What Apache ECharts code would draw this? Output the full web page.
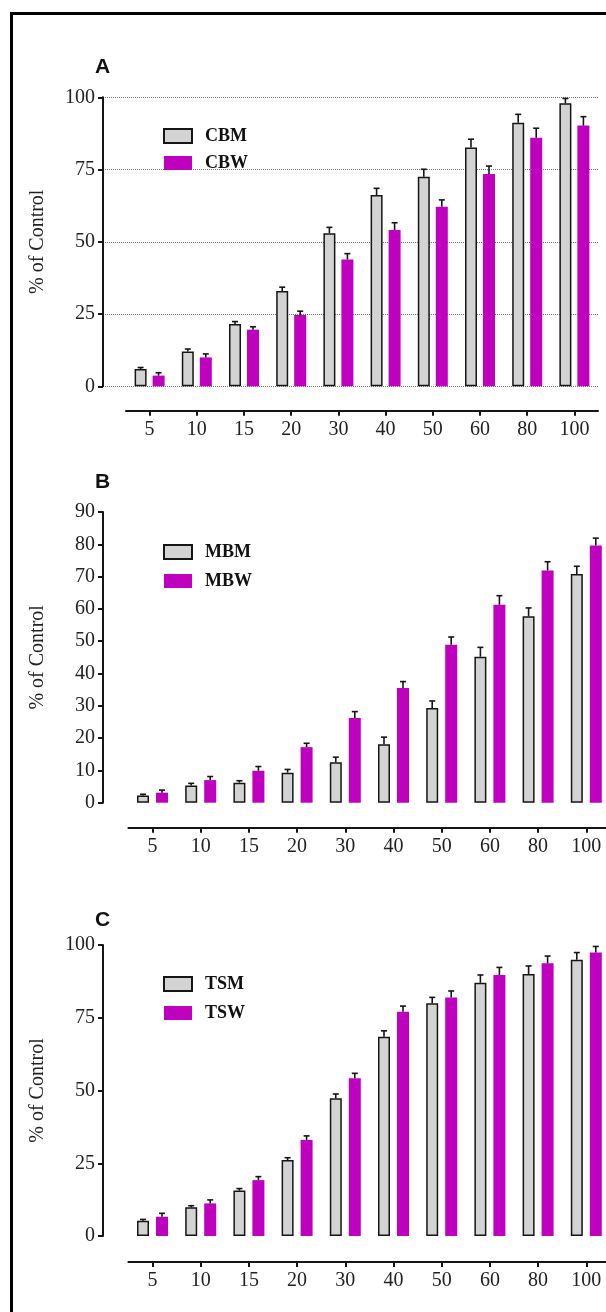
<!DOCTYPE html>
<html><head><meta charset="utf-8">
<script src="https://cdn.jsdelivr.net/npm/echarts@6/dist/echarts.min.js"></script>
<style>html,body{margin:0;padding:0;background:#fff}#c{width:606px;height:1312px}</style>
</head><body><div id="c"></div>
<script>
// ---- data ----
const categories = ['5','10','15','20','30','40','50','60','80','100'];

const cbm    = [6.0, 12.0, 21.6, 33.0, 53.0, 66.2, 72.5, 82.6, 91.2, 97.9];
const cbmErr = [0.5, 0.9, 0.8, 1.3, 2.0, 2.3, 2.6, 2.9, 2.9, 1.7];
const cbw    = [3.7, 10.0, 19.6, 24.7, 43.9, 54.1, 62.1, 73.5, 86.0, 90.2];
const cbwErr = [1.0, 1.2, 1.0, 1.3, 2.0, 2.5, 2.4, 2.7, 3.3, 3.1];

const mbm    = [2.2, 5.3, 6.2, 9.3, 12.5, 18.1, 29.3, 45.2, 57.7, 70.8];
const mbmErr = [0.4, 0.7, 0.6, 1.0, 1.6, 2.2, 2.2, 2.9, 2.6, 2.4];
const mbw    = [3.1, 7.0, 9.9, 17.2, 26.2, 35.5, 48.9, 61.3, 71.9, 79.6];
const mbwErr = [0.8, 1.1, 1.3, 1.2, 2.0, 2.0, 2.4, 2.8, 2.7, 2.3];

const tsm    = [5.2, 9.9, 15.6, 26.1, 47.3, 68.5, 80.0, 87.0, 90.0, 94.9];
const tsmErr = [0.5, 0.5, 0.7, 0.8, 1.5, 2.0, 2.0, 2.7, 2.8, 2.5];
const tsw    = [6.6, 11.2, 19.2, 33.0, 54.2, 77.1, 82.0, 89.7, 93.7, 97.4];
const tswErr = [1.2, 1.2, 1.2, 1.4, 1.7, 1.9, 2.2, 2.6, 2.5, 2.1];

const seriesNamesA = ['CBM', 'CBW'];
const seriesNamesB = ['MBM', 'MBW'];
const seriesNamesC = ['TSM', 'TSW'];
const panelLetters = ['A', 'B', 'C'];
const yAxisTitle = '% of Control';
const yMax  = [100, 90, 100];
const yStep = [25, 10, 25];

// ---- layout / style ----
const GRAY = '#d3d3d3', PURPLE = '#bf00bf', INK = '#151515';
const SERIF = '"Liberation Serif","Times New Roman",serif';
const SANS = '"Liberation Sans",Arial,sans-serif';

const panels = [
  {names: seriesNamesA, m: cbm, mErr: cbmErr, w: cbw, wErr: cbwErr, grid: true,
   top: 97.3, height: 289, axisLeft: 103, axisRight: 598, barLeft: 126, barW: 472,
   xOffset: 24.4, legendTop: 127, legendGap: 9, letterTop: 57, bw: 12, gap: 6},
  {names: seriesNamesB, m: mbm, mErr: mbmErr, w: mbw, wErr: mbwErr, grid: false,
   top: 512, height: 290.7, axisLeft: 103, axisRight: 606, barLeft: 128.4, barW: 482,
   xOffset: 25, legendTop: 543, legendGap: 11, letterTop: 472, bw: 12, gap: 7},
  {names: seriesNamesC, m: tsm, mErr: tsmErr, w: tsw, wErr: tswErr, grid: false,
   top: 945, height: 291, axisLeft: 103, axisRight: 606, barLeft: 128.4, barW: 482,
   xOffset: 26, legendTop: 975, legendGap: 11, letterTop: 910, bw: 12, gap: 7}
];

const grid = [], xAxis = [], yAxis = [], series = [], legend = [], graphic = [];

function errSeries(gi, vals, errs, off) {
  return {
    type: 'custom', xAxisIndex: gi, yAxisIndex: gi, z: 5, silent: true,
    data: vals.map((v, j) => [j, v, v + errs[j]]),
    renderItem: function (params, api) {
      const base = api.coord([api.value(0), api.value(1)]);
      const top = api.coord([api.value(0), api.value(2)]);
      const x = base[0] + off;
      const st = {stroke: INK, lineWidth: 1.6};
      return {type: 'group', children: [
        {type: 'line', shape: {x1: x, y1: base[1], x2: x, y2: top[1]}, style: st},
        {type: 'line', shape: {x1: x - 3, y1: top[1], x2: x + 3, y2: top[1]}, style: st}
      ]};
    }
  };
}

panels.forEach((p, i) => {
  const ga = 2 * i, gb = 2 * i + 1;
  grid.push({left: p.axisLeft, top: p.top, width: p.axisRight - p.axisLeft, height: p.height, outerBoundsMode: 'none', containLabel: false});
  grid.push({left: p.barLeft, top: p.top, width: p.barW, height: p.height, outerBoundsMode: 'none', containLabel: false});
  xAxis.push({gridIndex: ga, type: 'value', min: 0, max: 1, show: false});
  yAxis.push({
    gridIndex: ga, type: 'value', min: 0, max: yMax[i], interval: yStep[i],
    axisLine: {show: true, lineStyle: {color: INK, width: 2}},
    axisTick: {show: true, length: 5, lineStyle: {color: INK, width: 2}},
    axisLabel: {fontFamily: SERIF, fontSize: 20, color: '#222', margin: 8},
    splitLine: {show: p.grid, lineStyle: {type: 'dotted', color: '#777', width: 1}},
    name: yAxisTitle, nameLocation: 'middle', nameGap: 55,
    nameTextStyle: {fontFamily: SERIF, fontSize: 20, color: '#222'}
  });
  xAxis.push({
    gridIndex: gb, type: 'category', data: categories, offset: p.xOffset,
    axisLine: {show: true, onZero: false, lineStyle: {color: INK, width: 2}},
    axisTick: {show: true, alignWithLabel: true, length: 5, lineStyle: {color: INK, width: 2}},
    axisLabel: {interval: 0, fontFamily: SERIF, fontSize: 20, color: '#222', margin: 9},
    splitLine: {show: false}
  });
  yAxis.push({gridIndex: gb, type: 'value', min: 0, max: yMax[i], show: false, splitLine: {show: false}});

  const off = (p.bw + p.gap) / 2;
  series.push({
    name: p.names[0], type: 'bar', xAxisIndex: gb, yAxisIndex: gb, data: p.m,
    barWidth: p.bw, barGap: (p.gap / p.bw * 100) + '%',
    itemStyle: {color: GRAY, borderColor: INK, borderWidth: 1.5}
  });
  series.push({
    name: p.names[1], type: 'bar', xAxisIndex: gb, yAxisIndex: gb, data: p.w,
    barWidth: p.bw, barGap: (p.gap / p.bw * 100) + '%',
    itemStyle: {color: PURPLE}
  });
  series.push(errSeries(gb, p.m, p.mErr, -off));
  series.push(errSeries(gb, p.w, p.wErr, off));

  legend.push({
    data: p.names, orient: 'vertical', left: 163, top: p.legendTop, padding: 0,
    itemWidth: 28, itemHeight: 14, itemGap: p.legendGap, icon: 'rect', selectedMode: false,
    textStyle: {fontFamily: SERIF, fontWeight: 'bold', fontSize: 18, color: '#111', lineHeight: 14, padding: [0, 0, 0, 8]}
  });

  graphic.push({type: 'text', left: 95, top: p.letterTop,
    style: {text: panelLetters[i], font: 'bold 21px ' + SANS, fill: '#111'}});
});

graphic.push({type: 'rect', shape: {x: 11.5, y: 13.5, width: 700, height: 1400},
  style: {fill: 'none', stroke: '#000', lineWidth: 3}, z: 100});

const chart = echarts.init(document.getElementById('c'), null, {renderer: 'canvas'});
chart.setOption({
  backgroundColor: '#fff', animation: false,
  grid, xAxis, yAxis, series, legend, graphic
});
</script>
</body></html>
